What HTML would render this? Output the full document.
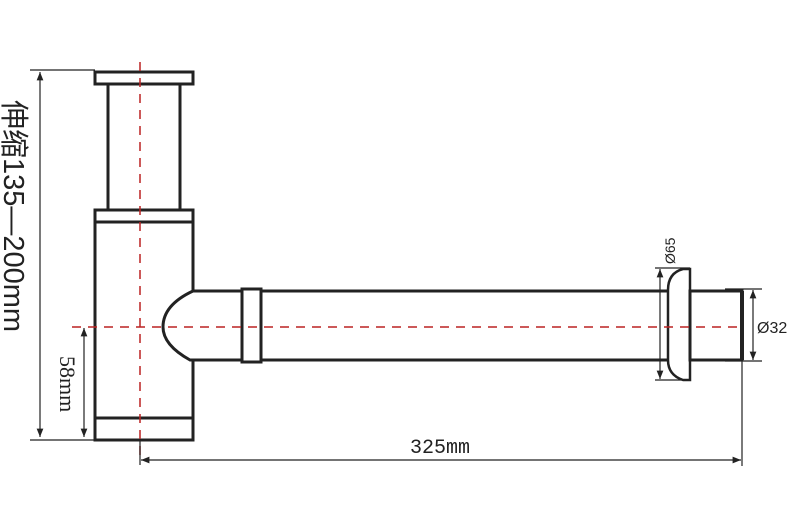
<!DOCTYPE html>
<html><head><meta charset="utf-8"><style>body{margin:0;background:#fff}svg{display:block}</style></head><body>
<svg width="800" height="518" viewBox="0 0 800 518" xmlns="http://www.w3.org/2000/svg">
<defs>
<marker id="a" viewBox="0 0 10 10" refX="10" refY="5" markerWidth="7" markerHeight="7" orient="auto-start-reverse"><path d="M0,1 L10,5 L0,9 z" fill="#222"/></marker>
</defs>
<g fill="#fff" stroke="#222" stroke-width="3">
<rect x="95" y="72" width="98" height="12"/>
<rect x="108" y="84" width="72" height="126"/>
<rect x="95" y="210" width="98" height="230"/>
<line x1="95" y1="222" x2="193" y2="222"/>
<line x1="95" y1="418" x2="193" y2="418"/>
<path d="M193,291 L690,291 L690,360 L193,360 L190,360 Q163,345 163,327 Q163,305 193,291 Z"/>
<rect x="242" y="289" width="19" height="73"/>
<path d="M690,269 L690,380 L683,380 Q668,375 668,360 L668,290 Q668,273 683,269 Z" stroke-width="2.5"/>
<rect x="690" y="291" width="52" height="69"/>
</g>
<line x1="742" y1="291" x2="742" y2="360" stroke="#222" stroke-width="4"/>
<g stroke="#b22" stroke-width="1.5" stroke-dasharray="9,7" fill="none">
<line x1="140" y1="62" x2="140" y2="458"/>
<line x1="72" y1="327" x2="740" y2="327"/>
</g>
<g stroke="#222" stroke-width="1.2" fill="none">
<line x1="30" y1="70" x2="95" y2="70"/>
<line x1="30" y1="440" x2="95" y2="440"/>
<line x1="40" y1="72" x2="40" y2="437" marker-start="url(#a)" marker-end="url(#a)"/>
<line x1="84" y1="328" x2="84" y2="437" marker-start="url(#a)" marker-end="url(#a)"/>
<line x1="140" y1="440" x2="140" y2="465"/>
<line x1="742" y1="360" x2="742" y2="466"/>
<line x1="141" y1="460" x2="741" y2="460" marker-start="url(#a)" marker-end="url(#a)"/>
<line x1="655" y1="268" x2="690" y2="268"/>
<line x1="655" y1="380" x2="690" y2="380"/>
<line x1="660" y1="269" x2="660" y2="379" marker-start="url(#a)" marker-end="url(#a)"/>
<line x1="725" y1="289" x2="762" y2="289"/>
<line x1="725" y1="361" x2="762" y2="361"/>
<line x1="753" y1="290" x2="753" y2="360" marker-start="url(#a)" marker-end="url(#a)"/>
</g>
<g fill="#222" font-family="'Liberation Sans','Noto Sans CJK SC',sans-serif">
<text transform="translate(4,100) rotate(90)" font-size="29">伸缩135—200mm</text>
<text transform="translate(60,356) rotate(90)" font-size="22" font-family="'Liberation Serif',serif">58mm</text>
<text x="440" y="453" font-size="20" text-anchor="middle" font-family="'Liberation Mono',monospace">325mm</text>
<text transform="translate(675,264) rotate(-90)" font-size="14">Ø65</text>
<text x="757" y="333" font-size="16">Ø32</text>
</g>
</svg>
</body></html>
